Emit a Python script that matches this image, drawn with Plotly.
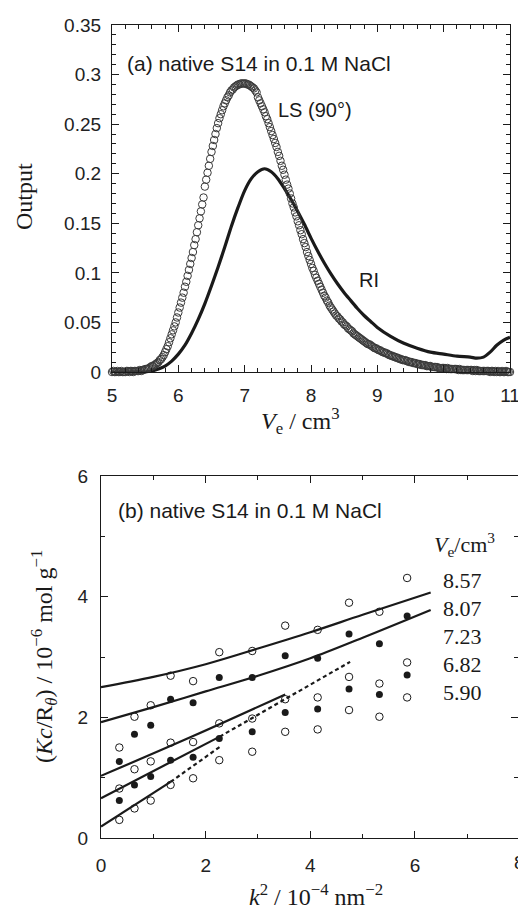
import numpy as np
import plotly.graph_objects as go

# ---------------- panel (a) data ----------------
ls_ve_start, ls_ve_step = 5.0, 0.02
ls_out = [
    0.000, 0.001, 0.000, 0.000, 0.001, 0.000, 0.000, 0.001, 0.000, 0.000,
    0.000, 0.001, 0.001, 0.000, 0.001, 0.001, 0.000, 0.001, 0.001, 0.001,
    0.001, 0.002, 0.001, 0.002, 0.002, 0.003, 0.003, 0.003, 0.004, 0.005,
    0.006, 0.006, 0.007, 0.008, 0.009, 0.010, 0.012, 0.013, 0.015, 0.017,
    0.020, 0.023, 0.026, 0.030, 0.034, 0.038, 0.042, 0.046, 0.050, 0.055,
    0.060, 0.065, 0.070, 0.075, 0.080, 0.086, 0.091, 0.097, 0.103, 0.109,
    0.115, 0.121, 0.128, 0.134, 0.141, 0.148, 0.155, 0.162, 0.169, 0.176,
    0.187, 0.194, 0.201, 0.208, 0.215, 0.222, 0.228, 0.234, 0.240, 0.246,
    0.251, 0.256, 0.260, 0.264, 0.268, 0.271, 0.274, 0.277, 0.279, 0.282,
    0.284, 0.285, 0.287, 0.288, 0.289, 0.290, 0.290, 0.291, 0.291, 0.291,
    0.291, 0.291, 0.290, 0.290, 0.289, 0.288, 0.287, 0.286, 0.284, 0.282,
    0.277, 0.274, 0.271, 0.268, 0.265, 0.262, 0.258, 0.255, 0.251, 0.247,
    0.243, 0.239, 0.235, 0.231, 0.227, 0.222, 0.218, 0.213, 0.208, 0.204,
    0.199, 0.194, 0.189, 0.185, 0.180, 0.175, 0.170, 0.166, 0.161, 0.157,
    0.152, 0.148, 0.143, 0.139, 0.134, 0.130, 0.126, 0.121, 0.117, 0.113,
    0.109, 0.105, 0.102, 0.098, 0.095, 0.092, 0.089, 0.086, 0.083, 0.080,
    0.077, 0.075, 0.072, 0.070, 0.067, 0.065, 0.063, 0.061, 0.059, 0.057,
    0.056, 0.054, 0.053, 0.051, 0.050, 0.048, 0.047, 0.046, 0.044, 0.043,
    0.042, 0.041, 0.039, 0.038, 0.037, 0.036, 0.035, 0.034, 0.033, 0.032,
    0.031, 0.030, 0.029, 0.028, 0.028, 0.027, 0.026, 0.025, 0.024, 0.024,
    0.023, 0.022, 0.022, 0.021, 0.020, 0.020, 0.019, 0.019, 0.018, 0.017,
    0.017, 0.016, 0.016, 0.015, 0.015, 0.014, 0.014, 0.013, 0.013, 0.012,
    0.012, 0.012, 0.011, 0.011, 0.010, 0.010, 0.010, 0.009, 0.009, 0.009,
    0.008, 0.008, 0.008, 0.007, 0.007, 0.007, 0.007, 0.006, 0.006, 0.006,
    0.006, 0.005, 0.005, 0.005, 0.005, 0.005, 0.004, 0.004, 0.004, 0.004,
    0.004, 0.004, 0.003, 0.004, 0.003, 0.003, 0.003, 0.003, 0.003, 0.003,
    0.003, 0.002, 0.003, 0.002, 0.002, 0.002, 0.002, 0.002, 0.002, 0.002,
    0.002, 0.002, 0.001, 0.002, 0.001, 0.002, 0.001, 0.001, 0.001, 0.001,
    0.001, 0.001, 0.001, 0.001, 0.001, 0.000, 0.001, 0.001, 0.000, 0.001,
    0.000, 0.001, 0.000, 0.000, 0.001, 0.000, 0.000, 0.001, 0.000, 0.000,
    0.000,
]
ls_ve = [round(ls_ve_start + ls_ve_step * i, 2) for i in range(len(ls_out))]

ri_ve = [5.0, 5.5, 5.6, 5.7, 5.8, 5.9, 6.0, 6.1, 6.2, 6.3, 6.4, 6.5, 6.6, 6.7, 6.8,
         6.9, 7.0, 7.1, 7.2, 7.3, 7.4, 7.5, 7.6, 7.7, 7.8, 7.9, 8.0, 8.1, 8.2,
         8.3, 8.4, 8.5, 8.6, 8.7, 8.8, 8.9, 9.0, 9.2, 9.4, 9.6, 9.8, 10.0, 10.2,
         10.4, 10.5, 10.6, 10.7, 10.8, 10.9, 11.0]
ri_out = [0.000, 0.000, 0.001, 0.003, 0.006, 0.011, 0.018, 0.027, 0.039, 0.053,
          0.069, 0.087, 0.106, 0.126, 0.147, 0.166, 0.183, 0.195, 0.202, 0.205,
          0.202, 0.195, 0.185, 0.174, 0.162, 0.149, 0.135, 0.122, 0.110, 0.099,
          0.089, 0.080, 0.072, 0.064, 0.057, 0.051, 0.045, 0.036, 0.029, 0.024,
          0.020, 0.018, 0.016, 0.015, 0.014, 0.015, 0.020, 0.027, 0.032, 0.035]

a_xticks = [5, 6, 7, 8, 9, 10, 11]
a_yticks = [0, 0.05, 0.1, 0.15, 0.2, 0.25, 0.3, 0.35]
a_yticklabels = ["0", "0.05", "0.1", "0.15", "0.2", "0.25", "0.3", "0.35"]

# ---------------- panel (b) data ----------------
k2 = [0.35, 0.64, 0.95, 1.33, 1.76, 2.26, 2.89, 3.52, 4.14, 4.74, 5.32, 5.85]
kc_857 = [1.50, 2.01, 2.20, 2.69, 2.60, 3.08, 3.10, 3.52, 3.45, 3.90, 3.75, 4.31]
kc_807 = [1.27, 1.72, 1.87, 2.30, 2.24, 2.66, 2.66, 3.02, 2.98, 3.38, 3.22, 3.68]
kc_723 = [0.82, 1.14, 1.27, 1.58, 1.59, 1.90, 1.98, 2.30, 2.33, 2.67, 2.56, 2.91]
kc_682 = [0.62, 0.88, 1.02, 1.29, 1.34, 1.65, 1.76, 2.08, 2.14, 2.47, 2.38, 2.70]
kc_590 = [0.30, 0.49, 0.62, 0.88, 0.99, 1.29, 1.43, 1.76, 1.80, 2.12, 2.01, 2.33]

fit_857_x = [0, 1, 2, 3, 4, 5, 6.3]
fit_857_y = [2.50, 2.67, 2.88, 3.14, 3.41, 3.70, 4.07]
fit_807_x = [0, 1, 2, 3, 4, 5, 6.3]
fit_807_y = [1.92, 2.17, 2.43, 2.69, 2.98, 3.32, 3.78]
fit_723_x = [0, 1.76, 3.52]
fit_723_y = [1.03, 1.69, 2.38]
fit_682_x = [0, 2.27]
fit_682_y = [0.66, 1.68]
ext_682_x = [2.27, 4.76]
ext_682_y = [1.68, 2.92]
fit_590_x = [0, 1.33]
fit_590_y = [0.19, 0.93]
ext_590_x = [1.33, 2.27]
ext_590_y = [0.93, 1.51]

b_ticks = [0, 2, 4, 6, 8]
ve_labels = ["8.57", "8.07", "7.23", "6.82", "5.90"]

# ---------------- figure ----------------
W, H = 518, 909
def px(x):
    return x / W
def py(y):
    return 1 - y / H

INK = "#1a1a1a"
SANS = "Liberation Sans, Arial, sans-serif"
SERIF = "Liberation Serif, Times New Roman, serif"

fig = go.Figure()

fig.add_trace(go.Scatter(x=ri_ve, y=ri_out, mode="lines", line=dict(color=INK, width=3.2, shape="spline", smoothing=0.8),
                         xaxis="x", yaxis="y", showlegend=False, hoverinfo="skip"))
fig.add_trace(go.Scatter(x=ls_ve, y=ls_out, mode="markers",
                         marker=dict(symbol="circle-open", size=7.5, color="#3a3a3a", line=dict(width=1)),
                         xaxis="x", yaxis="y", showlegend=False, hoverinfo="skip", cliponaxis=False))

line_style = dict(color=INK, width=2.2)
dash_style = dict(color=INK, width=2.2, dash="4px,3px")
for fx, fy in [(fit_857_x, fit_857_y), (fit_807_x, fit_807_y), (fit_723_x, fit_723_y),
               (fit_682_x, fit_682_y), (fit_590_x, fit_590_y)]:
    fig.add_trace(go.Scatter(x=fx, y=fy, mode="lines", line=dict(**line_style, shape="spline"),
                             xaxis="x2", yaxis="y2", showlegend=False, hoverinfo="skip"))
for fx, fy in [(ext_682_x, ext_682_y), (ext_590_x, ext_590_y)]:
    fig.add_trace(go.Scatter(x=fx, y=fy, mode="lines", line=dash_style,
                             xaxis="x2", yaxis="y2", showlegend=False, hoverinfo="skip"))

for vals, filled in [(kc_857, False), (kc_807, True), (kc_723, False), (kc_682, True), (kc_590, False)]:
    if filled:
        mk = dict(symbol="circle", size=7, color=INK)
    else:
        mk = dict(symbol="circle-open", size=7.5, color=INK, line=dict(width=1))
    fig.add_trace(go.Scatter(x=k2, y=vals, mode="markers", marker=mk,
                             xaxis="x2", yaxis="y2", showlegend=False, hoverinfo="skip"))

axis_common = dict(showline=True, linecolor=INK, linewidth=1.2, mirror="ticks", ticks="inside",
                   tickcolor=INK, tickwidth=1.1, showgrid=False, zeroline=False, automargin=False,
                   ticklabeloverflow="allow",
                   tickfont=dict(family=SANS, size=19, color="#222"))

fig.update_layout(
    template="none",
    width=W, height=H,
    margin=dict(l=0, r=0, t=0, b=0, autoexpand=False),
    paper_bgcolor="white", plot_bgcolor="white",
    xaxis=dict(**axis_common, domain=[px(112), px(510)], anchor="y", range=[5, 11],
               tickvals=a_xticks, ticklen=7, ticklabelstandoff=6,
               minor=dict(dtick=0.2, tick0=5, ticklen=3.5, ticks="inside", tickcolor=INK, tickwidth=1)),
    yaxis=dict(**axis_common, domain=[py(372), py(25)], anchor="x", range=[0, 0.35],
               tickvals=a_yticks, ticktext=a_yticklabels, ticklen=7, ticklabelstandoff=6,
               minor=dict(dtick=0.01, tick0=0, ticklen=3.5, ticks="inside", tickcolor=INK, tickwidth=1)),
    xaxis2=dict(**axis_common, domain=[px(101), 1.0], anchor="y2", range=[0, (W - 101) / 52.33],
                tickvals=b_ticks, ticklen=7, ticklabelstandoff=10,
                minor=dict(dtick=1, tick0=0, ticklen=3.5, ticks="inside", tickcolor=INK, tickwidth=1)),
    yaxis2=dict(**axis_common, domain=[py(838), py(476)], anchor="x2", range=[0, 6],
                tickvals=[0, 2, 4, 6], ticklen=7, ticklabelstandoff=8,
                minor=dict(dtick=1, tick0=0, ticklen=3.5, ticks="inside", tickcolor=INK, tickwidth=1)),
)

ann = []
def add_text(text, x, y, size, family, xanchor="left", yanchor="middle", angle=0):
    ann.append(dict(text=text, x=px(x), y=py(y), xref="paper", yref="paper", showarrow=False,
                    xanchor=xanchor, yanchor=yanchor, textangle=angle,
                    font=dict(family=family, size=size, color=INK)))

add_text("(a) native S14 in 0.1 M NaCl", 125, 63, 21, SANS)
add_text("LS (90°)", 276, 110, 20, SANS)
add_text("RI", 357, 280, 20, SANS)
add_text("Output", 24, 197, 24, SERIF, xanchor="center", angle=-90)
add_text("<i>V</i><sub>e</sub> / cm<sup>3</sup>", 300, 421, 24, SERIF, xanchor="center")

add_text("(b) native S14 in 0.1 M NaCl", 116, 510, 21, SANS)
add_text("<i>V</i><sub>e</sub>/cm<sup>3</sup>", 432, 544, 22, SERIF)
for i, lab in enumerate(ve_labels):
    add_text(lab, 441, 580 + 28 * i, 22, SERIF)
add_text("(<i>Kc</i>/R<sub><i>θ</i></sub>) / 10<sup>−6</sup> mol g<sup>−1</sup>", 44, 657, 24, SERIF,
         xanchor="center", angle=-90)
add_text("<i>k</i><sup>2</sup> / 10<sup>−4</sup> nm<sup>−2</sup>", 316, 895, 24, SERIF, xanchor="center")
add_text("8", 519, 862, 19, SANS, xanchor="center")

fig.update_layout(annotations=ann)

fig.write_html("out.html", config={"displayModeBar": False},
               post_script="document.body.style.margin='0';document.body.style.overflow='hidden';")
